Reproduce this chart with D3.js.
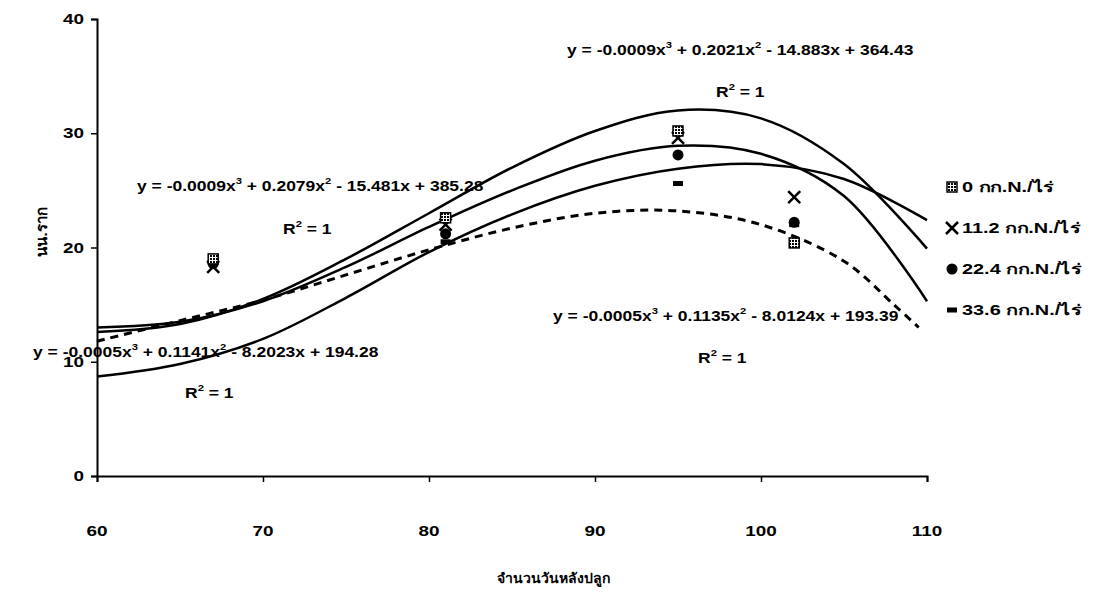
<!DOCTYPE html>
<html>
<head>
<meta charset="utf-8">
<script src="https://cdn.jsdelivr.net/npm/d3@7"></script>
<style>
  body { margin: 0; background: #fff; }
  text { font-family: "Liberation Sans", Arial, sans-serif; font-weight: bold; fill: #000; }
</style>
</head>
<body>
<svg id="chart" width="1103" height="593"></svg>
<script>
// tick values
const xTicks = [60, 70, 80, 90, 100, 110];
const yTicks = [0, 10, 20, 30, 40];

// measured points (days after planting)
const seriesNames = ["0 กก.N./ไร่", "11.2 กก.N./ไร่", "22.4 กก.N./ไร่", "33.6 กก.N./ไร่"];
const days = [67, 81, 95, 102];
const rootN0 = [19.0, 22.6, 30.2, 20.4];
const rootN11 = [18.3, 22.0, 29.6, 24.4];
const rootN22 = [18.6, 21.2, 28.1, 22.2];
const rootN33 = [18.8, 20.5, 25.6, 22.0];

// trendlines
const trendX = [60, 65, 70, 75, 80, 85, 90, 95, 100, 105, 110];
const trendTop = [12.6, 13.3, 15.5, 19.0, 23.0, 27.0, 30.2, 32.0, 31.3, 27.3, 19.9];
const trendSecond = [13.0, 13.5, 15.3, 18.3, 21.8, 25.0, 27.6, 28.9, 28.2, 24.5, 15.3];
const trendFlat = [8.7, 9.8, 12.0, 15.6, 19.6, 22.9, 25.4, 26.9, 27.3, 26.0, 22.4];
const trendDashX = [60, 65, 70, 75, 80, 85, 90, 95, 100, 105, 108, 109.5];
const trendDash = [11.8, 13.6, 15.4, 17.6, 19.8, 21.7, 23.0, 23.2, 22.0, 18.8, 15.0, 13.0];

// equation labels
const equations = [
    { terms: ["y = -0.0009x", "3", " + 0.2021x", "2", " - 14.883x + 364.43"], x: 567, y: 55, rx: 716, ry: 97 },
    { terms: ["y = -0.0009x", "3", " + 0.2079x", "2", " - 15.481x + 385.28"], x: 137, y: 191, rx: 283, ry: 234 },
    { terms: ["y = -0.0005x", "3", " + 0.1141x", "2", " - 8.2023x + 194.28"], x: 33, y: 357, rx: 185, ry: 398 },
    { terms: ["y = -0.0005x", "3", " + 0.1135x", "2", " - 8.0124x + 193.39"], x: 553, y: 321, rx: 698, ry: 363 }
];

const svg = d3.select("#chart");
const plotLeft = 97, plotRight = 927, plotTop = 19, plotBottom = 476;
const stretch = 1.25; // the scanned text is wider than a plain font

const xScale = d3.scaleLinear().domain([60, 110]).range([plotLeft, plotRight]);
const yScale = d3.scaleLinear().domain([0, 40]).range([plotBottom, plotTop]);

function placeText(x, y, sx) {
    return "translate(" + x + "," + y + ") scale(" + sx + ",1)";
}

// hatched marker fill
const defs = svg.append("defs");
const pat = defs.append("pattern").attr("id", "hatch")
    .attr("width", 3).attr("height", 3).attr("patternUnits", "userSpaceOnUse");
pat.append("rect").attr("width", 3).attr("height", 3).attr("fill", "#fff");
pat.append("rect").attr("width", 2).attr("height", 2).attr("fill", "#000");

// axes
const xAxis = d3.axisBottom(xScale).tickValues(xTicks).tickSize(6).tickFormat("");
const yAxis = d3.axisLeft(yScale).tickValues(yTicks).tickSize(6).tickFormat("");
const gx = svg.append("g").attr("transform", "translate(0," + plotBottom + ")").call(xAxis);
const gy = svg.append("g").attr("transform", "translate(" + plotLeft + ",0)").call(yAxis);
[gx, gy].forEach(function (g) {
    g.select(".domain").attr("stroke", "#000").attr("stroke-width", 2);
    g.selectAll(".tick line").attr("stroke", "#000").attr("stroke-width", 1.5);
});

svg.selectAll(".xlab").data(xTicks).enter().append("text")
    .attr("transform", d => placeText(xScale(d), 536, 1.35))
    .attr("text-anchor", "middle").attr("font-size", 14)
    .text(d => d);
svg.selectAll(".ylab").data(yTicks).enter().append("text")
    .attr("transform", d => placeText(84, yScale(d) + 5, 1.35))
    .attr("text-anchor", "end").attr("font-size", 14)
    .text(d => d);

svg.append("text").attr("x", 553).attr("y", 583).attr("text-anchor", "middle")
    .attr("font-size", 14).text("จำนวนวันหลังปลูก");
svg.append("text").attr("transform", "translate(47,232) rotate(-90)")
    .attr("text-anchor", "middle").attr("font-size", 15).text("นน.ราก");

// trendlines
const line = d3.line().curve(d3.curveCatmullRom)
    .x(d => xScale(d[0])).y(d => yScale(d[1]));
const solidTrends = [trendTop, trendSecond, trendFlat];
solidTrends.forEach(function (t) {
    svg.append("path").datum(trendX.map((x, i) => [x, t[i]]))
        .attr("d", line).attr("fill", "none").attr("stroke", "#000").attr("stroke-width", 2.5);
});
svg.append("path").datum(trendDashX.map((x, i) => [x, trendDash[i]]))
    .attr("d", line).attr("fill", "none").attr("stroke", "#000")
    .attr("stroke-width", 3).attr("stroke-dasharray", "8,6");

// markers
function drawMarker(g, type, cx, cy) {
    if (type === 0) {
        g.append("rect").attr("x", cx - 5).attr("y", cy - 5).attr("width", 10).attr("height", 10)
            .attr("fill", "url(#hatch)").attr("stroke", "#000").attr("stroke-width", 1.5);
    } else if (type === 1) {
        g.append("path").attr("d", `M${cx - 6},${cy - 6}L${cx + 6},${cy + 6}M${cx - 6},${cy + 6}L${cx + 6},${cy - 6}`)
            .attr("stroke", "#000").attr("stroke-width", 2.5);
    } else if (type === 2) {
        g.append("circle").attr("cx", cx).attr("cy", cy).attr("r", 5.5).attr("fill", "#000");
    } else {
        g.append("rect").attr("x", cx - 5).attr("y", cy - 2.5).attr("width", 10).attr("height", 5).attr("fill", "#000");
    }
}
const seriesValues = [rootN0, rootN11, rootN22, rootN33];
const gm = svg.append("g");
[3, 2, 1, 0].forEach(function (s) {
    days.forEach(function (d, i) {
        drawMarker(gm, s, xScale(d), yScale(seriesValues[s][i]));
    });
});

// equation labels
equations.forEach(function (e) {
    const t = svg.append("text").attr("transform", placeText(e.x, e.y, stretch)).attr("font-size", 14);
    e.terms.forEach(function (s, i) {
        const sup = i % 2 === 1;
        t.append("tspan").attr("font-size", sup ? 9 : 14)
            .attr("dy", sup ? -7 : (i > 0 ? 7 : 0)).text(s);
    });
    const r = svg.append("text").attr("transform", placeText(e.rx, e.ry, stretch)).attr("font-size", 14);
    r.append("tspan").text("R");
    r.append("tspan").attr("font-size", 9).attr("dy", -7).text("2");
    r.append("tspan").attr("dy", 7).text(" = 1");
});

// legend
const legend = svg.append("g");
seriesNames.forEach(function (name, i) {
    const ly = 187 + i * 41;
    drawMarker(legend, i, 952, ly);
    legend.append("text").attr("transform", placeText(962, ly + 5, 1.42))
        .attr("font-size", 14).text(name);
});
</script>
</body>
</html>
